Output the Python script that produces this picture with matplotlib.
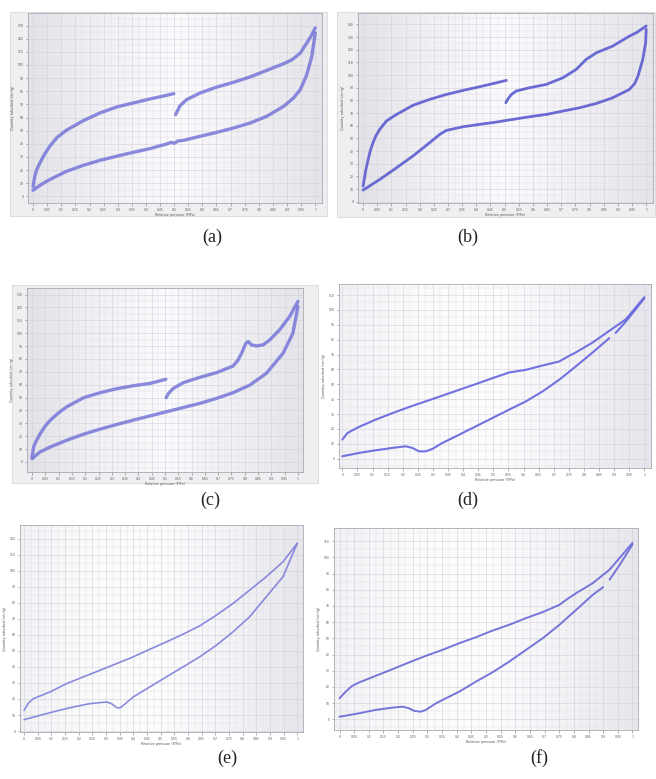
import numpy as np
import matplotlib
matplotlib.use("Agg")
import matplotlib.pyplot as plt
from matplotlib.colors import LinearSegmentedColormap
from matplotlib.patches import Rectangle
from matplotlib.ticker import MultipleLocator, AutoMinorLocator

# ---------------- data (relative pressure p/p0, quantity adsorbed) ----------------
# panel (a)
a_ads_p = [0, 0.015, 0.035, 0.059, 0.118, 0.178, 0.237, 0.296, 0.355, 0.414, 0.473, 0.49, 0.50, 0.515, 0.533,
           0.592, 0.651, 0.710, 0.769, 0.828, 0.888, 0.923, 0.947, 0.970, 0.988, 1.0]
a_ads_v = [4.6, 7.0, 9.8, 12.7, 19.0, 23.6, 27.4, 30.5, 33.5, 36.3, 39.8, 41.2, 40.4, 42.2, 42.6,
           45.7, 48.7, 52.0, 55.8, 60.9, 68.5, 74.9, 81.2, 92.6, 106.6, 124.4]
a_desh_p = [1.0, 0.985, 0.970, 0.947, 0.918, 0.888, 0.828, 0.769, 0.710, 0.651, 0.592, 0.544, 0.521, 0.505]
a_desh_v = [128.2, 122.0, 116.8, 109.1, 104.0, 101.0, 95.9, 90.9, 86.8, 83.2, 78.7, 73.6, 69.0, 62.2]
a_desl_p = [0.499, 0.473, 0.414, 0.355, 0.296, 0.237, 0.178, 0.118, 0.085, 0.059, 0.040, 0.024, 0.012, 0.006, 0.0]
a_desl_v = [78.2, 76.9, 74.1, 71.1, 68.0, 63.5, 57.6, 50.3, 44.8, 38.1, 31.8, 25.4, 19.8, 15.2, 7.6]

# panel (b)
b_ads_p = [0, 0.059, 0.118, 0.176, 0.235, 0.271, 0.294, 0.353, 0.412, 0.471, 0.529, 0.588,
           0.647, 0.706, 0.765, 0.824, 0.882, 0.941, 0.960, 0.971, 0.988, 0.998, 1.0]
b_ads_v = [9.2, 17.6, 26.8, 36.1, 46.6, 53.2, 56.3, 59.2, 61.1, 62.9, 65.0, 67.1,
           68.9, 71.6, 74.2, 77.6, 82.1, 88.7, 93.5, 99.2, 112.4, 125.5, 136.1]
b_desh_p = [1.0, 0.965, 0.941, 0.882, 0.824, 0.788, 0.753, 0.706, 0.647, 0.588, 0.541, 0.524, 0.512, 0.504]
b_desh_v = [138.7, 133.4, 130.8, 122.9, 117.6, 112.4, 104.5, 97.9, 92.6, 90.0, 87.4, 84.7, 81.3, 78.2]
b_desl_p = [0.506, 0.471, 0.412, 0.353, 0.294, 0.235, 0.176, 0.118, 0.082, 0.059, 0.045, 0.035, 0.025,
            0.018, 0.010, 0.006, 0.0]
b_desl_v = [95.8, 93.9, 90.8, 87.9, 84.7, 80.8, 76.1, 68.9, 63.7, 57.1, 52.0, 46.6, 40.0,
            33.4, 25.5, 20.3, 12.4]

# panel (c)
c_ads_p = [0, 0.030, 0.069, 0.131, 0.194, 0.256, 0.319, 0.381, 0.444, 0.506, 0.569, 0.631,
           0.694, 0.756, 0.819, 0.881, 0.944, 0.981, 1.0]
c_ads_v = [2.6, 7.8, 11.7, 16.9, 21.6, 25.5, 29.1, 32.5, 35.8, 39.0, 42.3, 45.5,
           49.4, 53.8, 59.7, 68.8, 84.4, 100.0, 120.8]
c_desh_p = [1.0, 0.969, 0.931, 0.894, 0.869, 0.844, 0.825, 0.813, 0.804, 0.788, 0.775,
            0.756, 0.694, 0.631, 0.569, 0.531, 0.513, 0.504]
c_desh_v = [124.7, 113.0, 102.6, 94.8, 90.9, 90.1, 90.9, 93.5, 92.2, 84.4, 79.2,
            74.5, 69.4, 65.7, 61.6, 57.1, 53.2, 49.9]
c_desl_p = [0.503, 0.444, 0.381, 0.319, 0.256, 0.194, 0.131, 0.100, 0.069, 0.048, 0.031, 0.015, 0.006, 0.0]
c_desl_v = [64.2, 61.0, 59.2, 56.9, 53.8, 49.9, 42.9, 38.2, 32.5, 27.5, 22.1, 16.0, 11.7, 3.9]

# panel (d)
d_ads_p = [0, 0.055, 0.110, 0.166, 0.210, 0.232, 0.254, 0.276, 0.298, 0.331, 0.387, 0.442,
           0.497, 0.552, 0.608, 0.663, 0.718, 0.773, 0.829, 0.884, 0.895, 0.905, 0.939, 1.0]
d_ads_v = [1.6, 3.8, 5.6, 7.2, 8.3, 7.2, 4.9, 4.9, 6.5, 10.5, 16.1, 21.7,
           27.3, 32.9, 38.5, 45.2, 53.0, 62.0, 71.4, 81.0, np.nan, 84.5, 92.2, 107.8]
d_des_p = [1.0, 0.939, 0.884, 0.829, 0.773, 0.751, 0.718, 0.663, 0.608, 0.552, 0.497,
           0.442, 0.387, 0.331, 0.276, 0.221, 0.166, 0.110, 0.055, 0.033, 0.017, 0]
d_des_v = [108.5, 93.7, 85.9, 78.1, 71.4, 69.1, 65.3, 62.6, 59.7, 57.9, 54.1,
           50.1, 46.3, 42.3, 38.5, 34.7, 30.6, 26.2, 21.3, 19.0, 17.2, 12.8]

# panel (e)
e_ads_p = [0, 0.058, 0.119, 0.180, 0.241, 0.278, 0.302, 0.320, 0.339, 0.351, 0.363, 0.400,
           0.460, 0.521, 0.582, 0.643, 0.704, 0.765, 0.826, 0.887, 0.948, 1.0]
e_ads_v = [7.1, 9.8, 12.5, 15.0, 17.1, 17.7, 18.1, 17.1, 14.6, 14.4, 16.0, 21.3,
           27.5, 33.8, 40.0, 46.3, 53.5, 61.9, 71.3, 83.8, 96.3, 117.1]
e_des_p = [1.0, 0.948, 0.887, 0.826, 0.765, 0.704, 0.643, 0.582, 0.521, 0.460,
           0.400, 0.339, 0.278, 0.217, 0.156, 0.095, 0.034, 0.016, 0]
e_des_v = [117.1, 105.6, 96.3, 87.9, 79.6, 72.3, 65.6, 60.4, 55.6, 51.0,
           46.3, 42.1, 37.9, 33.8, 29.6, 24.4, 20.2, 17.5, 12.9]

# panel (f)
f_ads_p = [0, 0.066, 0.123, 0.180, 0.215, 0.237, 0.255, 0.277, 0.295, 0.329, 0.409, 0.466,
           0.523, 0.580, 0.637, 0.694, 0.751, 0.808, 0.865, 0.900, 0.910, 0.922, 0.957, 1.0]
f_ads_v = [1.6, 3.7, 5.8, 7.2, 7.8, 6.8, 5.2, 4.7, 5.8, 9.9, 17.1, 23.3,
           29.1, 35.7, 42.9, 50.1, 58.4, 67.6, 76.9, 81.6, np.nan, 86.2, 95.5, 107.8]
f_des_p = [1.0, 0.922, 0.865, 0.808, 0.774, 0.751, 0.694, 0.637, 0.580, 0.523, 0.466,
           0.409, 0.352, 0.295, 0.237, 0.180, 0.123, 0.066, 0.043, 0.021, 0]
f_des_v = [108.9, 92.4, 84.1, 77.9, 73.8, 70.7, 66.2, 62.5, 58.4, 54.8, 50.7,
           47.0, 42.9, 39.2, 35.1, 30.9, 26.8, 22.7, 20.6, 17.1, 13.0]

panel_labels = ["(a)", "(b)", "(c)", "(d)", "(e)", "(f)"]
x_label = "Relative pressure (P/Po)"
y_label = "Quantity adsorbed (cm³/g)"

# ---------------- layout ----------------
W, H = 656, 779
fig = plt.figure(figsize=(W / 100, H / 100), dpi=100)
fig.patch.set_facecolor("white")


def frect(x0, y0, x1, y1):
    return [x0 / W, 1 - y1 / H, (x1 - x0) / W, (y1 - y0) / H]


# grey frames of the first three screenshots
for (x0, y0, x1, y1) in [(10, 12, 327, 216), (337, 12, 655, 217), (12, 285, 318, 483)]:
    r = frect(x0, y0, x1, y1)
    fig.patches.append(Rectangle((r[0], r[1]), r[2], r[3], transform=fig.transFigure,
                                 facecolor="#efeff1", edgecolor="#dedede", lw=0.8, zorder=-5))

bg_cmap = LinearSegmentedColormap.from_list(
    "bg", ["#e2e2e8", "#f1f1f5", "#fbfbfd", "#f0f0f4", "#e4e4ea"])
bg_cmap_light = LinearSegmentedColormap.from_list(
    "bgl", ["#f2f2f5", "#fbfbfc", "#fdfdfe", "#f3f3f6", "#e6e6ec"])

panels = [
    dict(box=(28, 13, 322, 203), xlim=(-0.018, 1.024), ylim=(-5.1, 139.6), ystep=10,
         ads=(a_ads_p, a_ads_v), des=[(a_desh_p, a_desh_v), (a_desl_p, a_desl_v)],
         lw=2.4, color="#7676d8", alpha=0.85, cmap=bg_cmap, lab=(212, 237)),
    dict(box=(358, 13, 653, 203), xlim=(-0.018, 1.024), ylim=(-1, 149), ystep=10,
         ads=(b_ads_p, b_ads_v), des=[(b_desh_p, b_desh_v), (b_desl_p, b_desl_v)],
         lw=2.0, color="#5c5cd0", alpha=0.9, cmap=bg_cmap, lab=(468, 237)),
    dict(box=(27, 288, 303, 472), xlim=(-0.019, 1.019), ylim=(-7.8, 135.1), ystep=10,
         ads=(c_ads_p, c_ads_v), des=[(c_desh_p, c_desh_v), (c_desl_p, c_desl_v)],
         lw=2.4, color="#7676d8", alpha=0.85, cmap=bg_cmap, lab=(210, 500)),
    dict(box=(339, 284, 651, 468), xlim=(-0.011, 1.022), ylim=(-6.3, 117.4), ystep=10,
         ads=(d_ads_p, d_ads_v), des=[(d_des_p, d_des_v)],
         lw=1.5, color="#6a6ae0", alpha=0.95, cmap=bg_cmap_light, lab=(468, 500)),
    dict(box=(20, 525, 303, 732), xlim=(-0.015, 1.021), ylim=(-0.6, 128.5), ystep=10,
         ads=(e_ads_p, e_ads_v), des=[(e_des_p, e_des_v)],
         lw=1.2, color="#8484dc", alpha=0.95, cmap=bg_cmap_light, lab=(227, 758)),
    dict(box=(334, 528, 638, 730), xlim=(-0.019, 1.019), ylim=(-6.6, 118.1), ystep=10,
         ads=(f_ads_p, f_ads_v), des=[(f_des_p, f_des_v)],
         lw=1.4, color="#6e6ed8", alpha=0.95, cmap=bg_cmap_light, lab=(539, 758)),
]

grad = np.linspace(0, 1, 256).reshape(1, -1)

for i, pn in enumerate(panels):
    ax = fig.add_axes(frect(*pn["box"]))
    ax.imshow(grad, extent=(0, 1, 0, 1), transform=ax.transAxes, aspect="auto",
              cmap=pn["cmap"], zorder=-2, interpolation="bilinear")
    ax.set_axisbelow(True)
    ax.plot(pn["ads"][0], pn["ads"][1], color=pn["color"], lw=pn["lw"],
            alpha=pn["alpha"], solid_capstyle="round", solid_joinstyle="round", zorder=3)
    for (dp, dv) in pn["des"]:
        ax.plot(dp, dv, color=pn["color"], lw=pn["lw"], alpha=pn["alpha"],
                solid_capstyle="round", solid_joinstyle="round", zorder=3)
    ax.set_xlim(*pn["xlim"])
    ax.set_ylim(*pn["ylim"])
    ax.xaxis.set_major_locator(MultipleLocator(0.05))
    ax.xaxis.set_minor_locator(AutoMinorLocator(2))
    ax.yaxis.set_major_locator(MultipleLocator(pn["ystep"]))
    ax.yaxis.set_minor_locator(AutoMinorLocator(2))
    ax.grid(True, which="major", color="#d4d4dc", lw=0.45)
    ax.grid(True, which="minor", color="#e2e2e8", lw=0.35)
    ax.tick_params(which="both", labelsize=2.2, labelcolor="#555555", color="#777777",
                   length=1.8, width=0.4, pad=1.5)
    ax.tick_params(which="minor", length=0)
    ax.xaxis.set_major_formatter(plt.FuncFormatter(lambda v, _: f"{v:.2f}".rstrip("0").rstrip(".")))
    for s in ax.spines.values():
        s.set_color("#a8a8b0")
        s.set_linewidth(0.6)
    ax.set_xlabel(x_label, fontsize=2.4, color="#555555", labelpad=1.2)
    ax.set_ylabel(y_label, fontsize=2.4, color="#555555", labelpad=2)
    lx, ly = pn["lab"]
    fig.text(lx / W, 1 - ly / H, panel_labels[i], ha="center", va="center",
             fontsize=13, family=["Liberation Serif", "DejaVu Serif"], color="#222222")

fig.savefig("out.png", dpi=100, facecolor="white")
